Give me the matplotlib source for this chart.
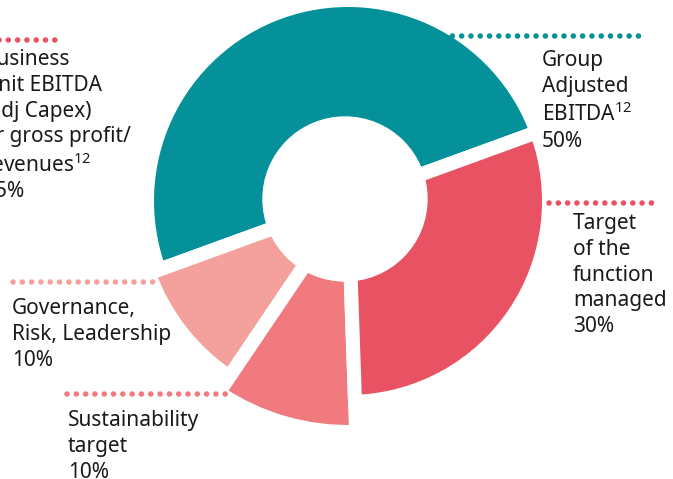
import matplotlib
matplotlib.use('Agg')
import matplotlib.pyplot as plt

plt.rcParams['font.family'] = ['Noto Sans', 'DejaVu Sans']
plt.rcParams['mathtext.fontset'] = 'custom'
plt.rcParams['mathtext.rm'] = 'Noto Sans'
plt.rcParams['mathtext.default'] = 'regular'

# dilim verileri (saat yönünün tersine, 20 dereceden başlayarak)
dilimler = ['Group Adjusted EBITDA', 'Governance, Risk, Leadership',
            'Sustainability target', 'Target of the function managed']
paylar = [50, 10, 10, 30]
renkler = ['#04919A', '#F4A19D', '#F07A7D', '#E85262']

# etiket metinleri
etiketler = [
    'Group\nAdjusted\nEBITDA$^{12}$\n50%',
    'Governance,\nRisk, Leadership\n10%',
    'Sustainability\ntarget\n10%',
    'Target\nof the\nfunction\nmanaged\n30%',
]
bu_etiket = 'Business\nUnit EBITDA\n(adj Capex)\nor gross profit/\nrevenues$^{12}$\n25%'

W, H = 673, 479


def py(y):
    # piksel y -> veri y
    return H - y


fig = plt.figure(figsize=(W / 100, H / 100), dpi=100)
ax = fig.add_axes([0, 0, 1, 1])

# dış yarıçaplar (piksel) - her dilim farklı büyüklükte
yaricaplar = [194, 205, 224, 194]
bosluk = 14  # beyaz ayırıcı çizgi kalınlığı, px

wedges, _ = ax.pie(paylar, colors=renkler, startangle=20, counterclock=True,
                   radius=194, center=(348, py(201)),
                   wedgeprops=dict(edgecolor='white', linewidth=bosluk * 0.72))
for w, r in zip(wedges, yaricaplar):
    w.set_radius(r + bosluk / 2)

# ortadaki delik
ax.add_patch(plt.Circle((345, py(199)), 82, color='white', zorder=5))

ax.set_xlim(0, W)
ax.set_ylim(0, H)
ax.set_aspect('equal')
ax.axis('off')

# noktalı kılavuz çizgileri
def noktali(x0, x1, y, renk):
    ax.plot([x0, x1], [py(y), py(y)], color=renk, lw=4.0,
            linestyle=(0, (0.01, 1.665)), dash_capstyle='round',
            solid_capstyle='round', zorder=6)


noktali(-5, 62, 40, renkler[3])
noktali(443, 642, 36, renkler[0])
noktali(549, 657, 203, renkler[3])
noktali(13, 157, 282, renkler[1])
noktali(67, 233, 394, renkler[2])

yazi = dict(fontsize=15, color='#1a1a1a', ha='left', va='top',
            linespacing=1.3, zorder=7)
ax.text(-17, py(49), bu_etiket, **yazi)
ax.text(542, py(50), etiketler[0], **yazi)
ax.text(12, py(298), etiketler[1], **yazi)
ax.text(68, py(410), etiketler[2], **yazi)
ax.text(573, py(213), etiketler[3], **yazi)

fig.savefig('out.png', dpi=100)
